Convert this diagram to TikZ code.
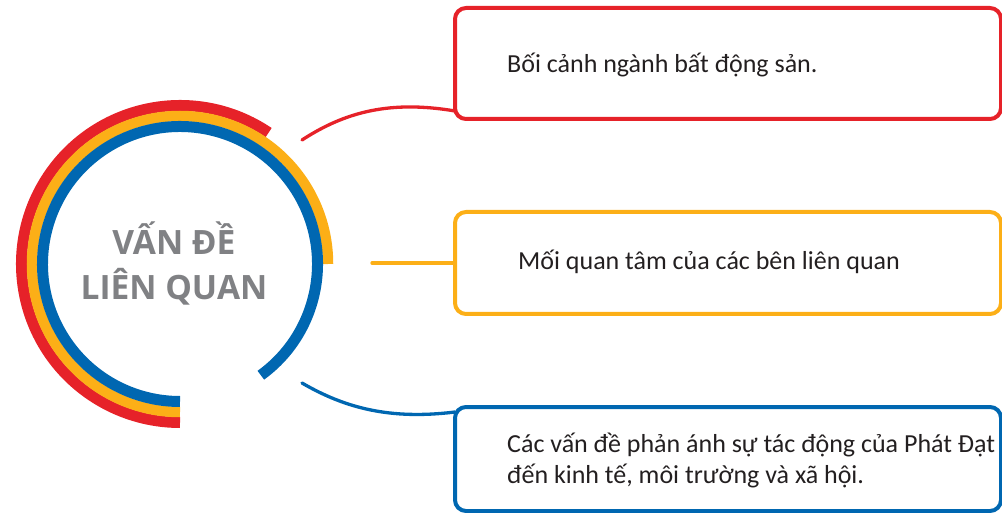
\documentclass[tikz,border=0pt]{standalone}
\usepackage{fontspec}
\usetikzlibrary{calc}
\newfontfamily\boxfont{Carlito}
\newfontfamily\titlefont{Open Sans}
\definecolor{cred}{HTML}{E62229}
\definecolor{cyellow}{HTML}{FCAF17}
\definecolor{cblue}{HTML}{0067B1}
\definecolor{ctitle}{HTML}{808184}
\definecolor{ctext}{HTML}{231F20}
\tikzset{
  box/.style={draw, rectangle, line width=4pt, rounded corners=11pt, inner sep=0pt, outer sep=0pt,
    minimum width=546pt, anchor=north west},
  conn/.style={line width=3.3pt, line cap=round},
  ring/.style={line width=#1, line cap=butt},
  txt/.style={font=\boxfont\fontsize{26}{31}\selectfont, text=ctext, inner sep=0pt, anchor=base west},
  ttl/.style={font=\titlefont\bfseries\fontsize{33.5}{44}\selectfont, text=ctitle, inner sep=0pt, anchor=base}
}
\begin{document}
\begin{tikzpicture}[x=1pt,y=-1pt]
\useasboundingbox (0,0) rectangle (1002,513);
% central rings
\coordinate (cc) at (180,264);
\draw[ring=11pt, cred] ([shift={(56:158.5pt)}]cc) arc[start angle=56, end angle=270, radius=158.5pt];
\draw[ring=10.5pt, cyellow] ([shift={(0:148pt)}]cc) arc[start angle=0, end angle=270, radius=148pt];
\draw[ring=11pt, cblue] ([shift={(-54:137.5pt)}]cc) arc[start angle=-54, end angle=270, radius=137.5pt];
\node[ttl] (title1) at (174,255) {VẤN ĐỀ};
\node[ttl] (title2) at (174,299) {LIÊN QUAN};
% boxes
\node[box, draw=cred, minimum height=111pt] (rbox) at (455,8) {};
\node[box, draw=cyellow, minimum height=102pt] (ybox) at (455,212) {};
\node[box, draw=cblue, minimum height=104pt] (bbox) at (455,407) {};
% texts
\node[txt] (t1) at (507,73) {Bối cảnh ngành bất động sản.};
\node[txt] (t2) at (518,270) {Mối quan tâm của các bên liên quan};
\node[txt] (t3) at (507,452) {Các vấn đề phản ánh sự tác động của Phát Đạt};
\node[txt] (t4) at (507,483) {đến kinh tế, môi trường và xã hội.};
% connectors
\coordinate (rstart) at (302,140);
\coordinate (ystart) at (372,263);
\coordinate (bstart) at (302,383);
\draw[conn, cred] (rstart) .. controls (345,112) and (390,100) .. ($(rbox.south west)+(0,-8)$);
\draw[conn, cyellow] (ystart) -- (ybox.west);
\draw[conn, cblue] (bstart) .. controls (345,408) and (390,420) .. ($(bbox.north west)+(0,5)$);
\end{tikzpicture}
\end{document}
